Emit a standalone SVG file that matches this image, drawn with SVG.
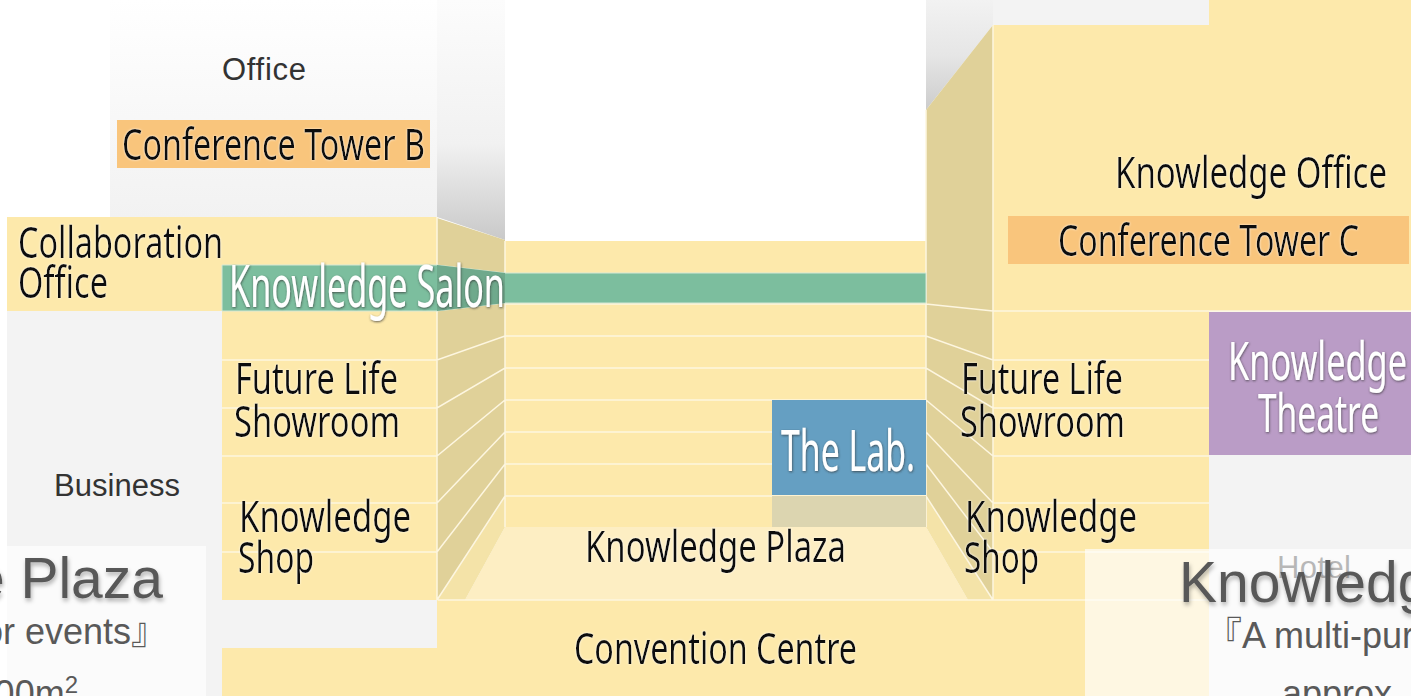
<svg xmlns="http://www.w3.org/2000/svg" width="1411" height="696" viewBox="0 0 1411 696">
<style>
.y{fill:#fde9ab}
.g{fill:#f3f3f3}
.side{fill:#e0d199}
.ln{stroke:#fdf6e0;stroke-width:1.5;fill:none}
.c{font-family:"Noto Sans","Liberation Sans",sans-serif}
.k{fill:#0d0d0d;font-size:43px;filter:url(#halo)}
.w{fill:#fff;filter:url(#dark)}
.a{font-family:"Liberation Sans",sans-serif;fill:#333;font-size:31px}
.p{font-family:"Liberation Sans","Noto Sans CJK JP",sans-serif;fill:#595959}
.big{font-size:57px;filter:url(#ds)}
.mid{font-size:36px}
</style>
<defs>
<linearGradient id="tw" x1="0" y1="0" x2="0" y2="1"><stop offset="0" stop-color="#ffffff"/><stop offset="1" stop-color="#f2f2f2"/></linearGradient>
<linearGradient id="sd" x1="0" y1="0" x2="0" y2="1"><stop offset="0" stop-color="#fcfcfc"/><stop offset=".6" stop-color="#f1f1f1"/><stop offset="1" stop-color="#c9c9c9"/></linearGradient>
<linearGradient id="sr" x1="0" y1="0" x2="0" y2="1"><stop offset="0" stop-color="#f2f2f2"/><stop offset=".5" stop-color="#e6e6e6"/><stop offset="1" stop-color="#cccccc"/></linearGradient>
<filter id="halo" x="-5%" y="-20%" width="110%" height="140%"><feDropShadow dx="0" dy="0" stdDeviation="1.2" flood-color="#fff" flood-opacity=".8"/></filter>
<filter id="dark" x="-5%" y="-20%" width="110%" height="140%"><feDropShadow dx="0.5" dy="1" stdDeviation="1.2" flood-color="#333" flood-opacity=".75"/></filter>
<filter id="ds" x="-5%" y="-20%" width="110%" height="150%"><feDropShadow dx="1" dy="3" stdDeviation="2" flood-color="#000" flood-opacity=".3"/></filter>
</defs>
<rect width="1411" height="696" fill="#fff"/>
<g id="tower-b"><rect x="110" y="0" width="327" height="217" fill="url(#tw)"/><polygon points="437,0 505,0 505,240 437,217" fill="url(#sd)"/></g>
<g id="business"><rect class="g" x="7" y="311" width="215" height="385"/><rect class="g" x="222" y="600" width="216" height="48"/></g>
<g id="tower-c-base"><polygon points="926,0 993,0 993,25 926,110" fill="url(#sr)"/><rect class="g" x="993" y="0" width="216" height="25"/><rect class="y" x="1209" y="0" width="202" height="26"/></g>
<g id="hotel"><rect class="g" x="1209" y="455" width="202" height="241"/></g>
<g id="atrium">
<rect class="y" x="505" y="241" width="421" height="287"/>
<polygon points="505,527 926,527 968,600 465,600" fill="#fdeec3"/>
<polygon points="505,497 505,527 465,600 437,600" fill="#f4e3a8"/>
<polygon points="926,497 926,527 968,600 993,600" fill="#f4e3a8"/>
<polygon class="side" points="437,218 505,240 505,497 437,600"/>
<polygon class="side" points="926,110 993,25 993,600 926,497"/>
</g>
<g id="collaboration-office"><rect class="y" x="7" y="217" width="430" height="94"/><text class="c k" x="18" y="258" textLength="205" lengthAdjust="spacingAndGlyphs">Collaboration</text><text class="c k" x="18" y="298" textLength="90" lengthAdjust="spacingAndGlyphs">Office</text></g>
<g id="left-wing"><rect class="y" x="222" y="311" width="215" height="289"/></g>
<g id="convention-centre"><rect class="y" x="437" y="600" width="648" height="96"/><rect class="y" x="222" y="648" width="215" height="48"/><text class="c k" x="574" y="664" textLength="283" lengthAdjust="spacingAndGlyphs">Convention Centre</text></g>
<g id="knowledge-office"><rect class="y" x="993" y="25" width="418" height="286"/><rect class="y" x="993" y="311" width="216" height="289"/><rect class="y" x="1085" y="600" width="124" height="96"/><text class="c k" x="1115" y="188" textLength="272" lengthAdjust="spacingAndGlyphs">Knowledge Office</text></g>
<g id="connectors">
<path class="ln" d="M222 360H437L505 336H926L993 360H1209M222 408H437L505 368H926L993 408H1209M222 456H437L505 400H926L993 456H1209M222 503H437L505 432H926L993 503H1209M222 552H437L505 464H926L993 552H1209M437 600L505 496H926L993 600M438 600H1209M505 304H926L993 311H1411M437 217V600M505 241V527M926 110V527M993 25V600"/>
</g>
<g id="conference-tower-b"><rect x="117" y="120" width="313" height="48" fill="#f9c57c"/><text class="c k" x="122" y="160" textLength="303" lengthAdjust="spacingAndGlyphs">Conference Tower B</text></g>
<g id="conference-tower-c"><rect x="1008" y="216" width="401" height="48" fill="#f9c57c"/><text class="c k" x="1058" y="256" textLength="301" lengthAdjust="spacingAndGlyphs">Conference Tower C</text></g>
<g id="knowledge-salon"><polygon points="222,265 437,265 505,273 926,273 926,303 505,303 437,311 222,311" fill="#7cbe9e" stroke="#d5e8d5" stroke-width="1"/><polygon points="437,265 505,273 505,303 437,311" fill="#6fa98c"/><text class="c w" font-size="58" x="229" y="307" textLength="276" lengthAdjust="spacingAndGlyphs">Knowledge Salon</text></g>
<g id="the-lab"><rect x="772" y="400" width="154" height="95" fill="#659fc2"/><rect x="772" y="496" width="154" height="31" fill="#dcd5b0"/><text class="c w" font-size="57" x="781" y="471" textLength="134" lengthAdjust="spacingAndGlyphs">The Lab.</text></g>
<g id="knowledge-theatre"><rect x="1209" y="312" width="202" height="143" fill="#ba9cc6"/><text class="c w" font-size="52" x="1228" y="380" textLength="179" lengthAdjust="spacingAndGlyphs">Knowledge</text><text class="c w" font-size="52" x="1258" y="432" textLength="121" lengthAdjust="spacingAndGlyphs">Theatre</text></g>
<g id="future-life-left"><text class="c k" x="235" y="394" textLength="163" lengthAdjust="spacingAndGlyphs">Future Life</text><text class="c k" x="234" y="437" textLength="166" lengthAdjust="spacingAndGlyphs">Showroom</text></g>
<g id="knowledge-shop-left"><text class="c k" x="239" y="532" textLength="172" lengthAdjust="spacingAndGlyphs">Knowledge</text><text class="c k" x="238" y="573" textLength="76" lengthAdjust="spacingAndGlyphs">Shop</text></g>
<g id="future-life-right"><text class="c k" x="961" y="394" textLength="162" lengthAdjust="spacingAndGlyphs">Future Life</text><text class="c k" x="960" y="437" textLength="165" lengthAdjust="spacingAndGlyphs">Showroom</text></g>
<g id="knowledge-shop-right"><text class="c k" x="965" y="532" textLength="172" lengthAdjust="spacingAndGlyphs">Knowledge</text><text class="c k" x="964" y="573" textLength="75" lengthAdjust="spacingAndGlyphs">Shop</text></g>
<g id="knowledge-plaza-floor"><text class="c k" x="585" y="562" textLength="261" lengthAdjust="spacingAndGlyphs">Knowledge Plaza</text></g>
<g id="labels"><text class="a" x="222" y="80" textLength="84">Office</text><text class="a" x="54" y="496" textLength="126">Business</text><text x="1277" y="578" font-family="Liberation Sans,sans-serif" font-size="31" fill="#333" textLength="74">Hotel</text></g>
<g id="plaza-panel"><rect x="0" y="546" width="206" height="150" fill="#fff" fill-opacity=".65"/><text class="p big" x="163" y="598" text-anchor="end">e Plaza</text><text class="p mid" x="167" y="644" text-anchor="end">or events』</text><text class="p mid" x="78" y="706" text-anchor="end">00m<tspan font-size="24" dy="-13">2</tspan></text></g>
<g id="theatre-panel"><rect x="1085" y="549" width="326" height="147" fill="#fff" fill-opacity=".65"/><text class="p big" x="1179" y="602">Knowledg</text><text class="p mid" x="1206" y="648">『A multi-pur</text><text class="p mid" x="1282" y="706">approx.</text></g>
</svg>
